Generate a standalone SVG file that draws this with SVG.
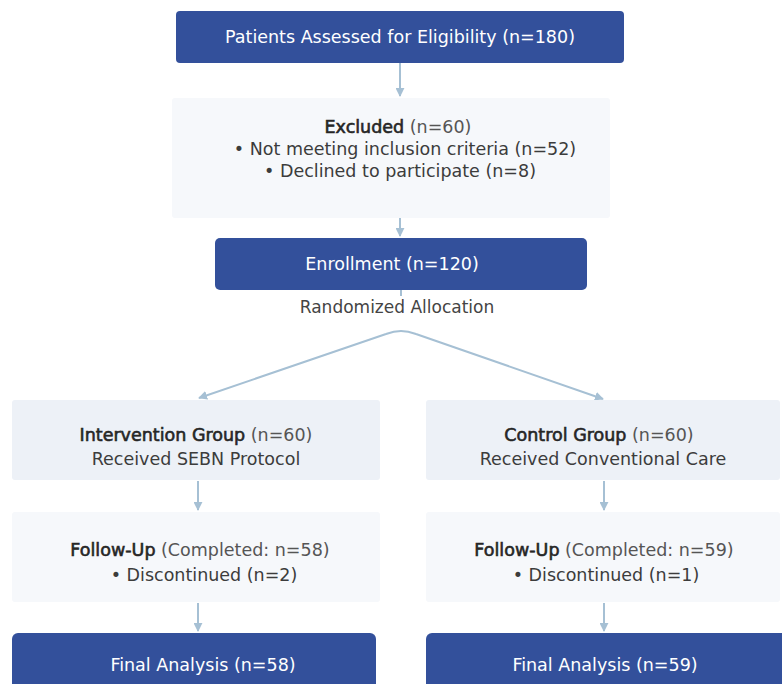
<svg xmlns="http://www.w3.org/2000/svg" width="782" height="684" viewBox="0 0 782 684">
<defs>
<marker id="ah" viewBox="0 0 10 10" refX="9" refY="5" markerWidth="4.5" markerHeight="4.5" orient="auto" markerUnits="strokeWidth">
<path d="M0,0 L10,5 L0,10 z" fill="#a6c0d4"/>
</marker>
<style>
.dark{fill:#33509b;}
.lite{fill:#f6f8fb;}
.grp{fill:#edf1f7;}
.wt{font-family:"DejaVu Sans","Open Sans",sans-serif;font-size:17.5px;fill:#ffffff;text-anchor:middle;}
.tx{font-family:"DejaVu Sans","Open Sans",sans-serif;font-size:17.5px;fill:#3c3c3c;text-anchor:middle;}
.b{fill:#262626;stroke:#262626;stroke-width:0.6px;}
.r{fill:#555555;}
.sm{font-family:"DejaVu Sans","Open Sans",sans-serif;font-size:17px;fill:#444444;text-anchor:middle;}
.ln{stroke:#a6c0d4;stroke-width:2;fill:none;}
</style>
</defs>
<rect width="782" height="684" fill="#ffffff"/>
<g id="connectors">
<line class="ln" x1="400" y1="63" x2="400" y2="96" marker-end="url(#ah)"/>
<line class="ln" x1="400" y1="218" x2="400" y2="236" marker-end="url(#ah)"/>
<line class="ln" x1="401" y1="290" x2="401" y2="296"/>
<path class="ln" d="M401,331 Q394,331 386,334 L199,398" marker-end="url(#ah)"/>
<path class="ln" d="M401,331 Q408,331 416,334 L603,399" marker-end="url(#ah)"/>
<line class="ln" x1="198" y1="481" x2="198" y2="510" marker-end="url(#ah)"/>
<line class="ln" x1="604" y1="481" x2="604" y2="510" marker-end="url(#ah)"/>
<line class="ln" x1="198" y1="603" x2="198" y2="631" marker-end="url(#ah)"/>
<line class="ln" x1="604" y1="603" x2="604" y2="631" marker-end="url(#ah)"/>
</g>
<g id="assessed">
<rect class="dark" x="176" y="11" width="448" height="52" rx="4"/>
<text class="wt" x="400" y="43">Patients Assessed for Eligibility (n=180)</text>
</g>
<g id="excluded">
<rect class="lite" x="172" y="98" width="438" height="120" rx="3"/>
<text class="tx" x="398" y="133"><tspan class="b">Excluded</tspan><tspan class="r"> (n=60)</tspan></text>
<text class="tx" x="405" y="155">• Not meeting inclusion criteria (n=52)</text>
<text class="tx" x="400" y="177">• Declined to participate (n=8)</text>
</g>
<g id="enrollment">
<rect class="dark" x="215" y="238" width="372" height="52" rx="5"/>
<text class="wt" x="392" y="270">Enrollment (n=120)</text>
</g>
<text class="sm" x="397" y="313">Randomized Allocation</text>
<g id="intervention">
<rect class="grp" x="12" y="400" width="368" height="80" rx="3"/>
<text class="tx" x="196" y="441"><tspan class="b">Intervention Group</tspan><tspan class="r"> (n=60)</tspan></text>
<text class="tx" x="196" y="465">Received SEBN Protocol</text>
</g>
<g id="control">
<rect class="grp" x="426" y="400" width="354" height="80" rx="3"/>
<text class="tx" x="599" y="441"><tspan class="b">Control Group</tspan><tspan class="r"> (n=60)</tspan></text>
<text class="tx" x="603" y="465">Received Conventional Care</text>
</g>
<g id="followup-left">
<rect class="lite" x="12" y="512" width="368" height="90" rx="3"/>
<text class="tx" x="200" y="556"><tspan class="b">Follow-Up</tspan><tspan class="r"> (Completed: n=58)</tspan></text>
<text class="tx" x="204" y="581">• Discontinued (n=2)</text>
</g>
<g id="followup-right">
<rect class="lite" x="426" y="512" width="354" height="90" rx="3"/>
<text class="tx" x="604" y="556"><tspan class="b">Follow-Up</tspan><tspan class="r"> (Completed: n=59)</tspan></text>
<text class="tx" x="606" y="581">• Discontinued (n=1)</text>
</g>
<g id="final-left">
<rect class="dark" x="12" y="633" width="364" height="60" rx="6"/>
<text class="wt" x="203" y="671">Final Analysis (n=58)</text>
</g>
<g id="final-right">
<rect class="dark" x="426" y="633" width="362" height="60" rx="6"/>
<text class="wt" x="605" y="671">Final Analysis (n=59)</text>
</g>
</svg>
